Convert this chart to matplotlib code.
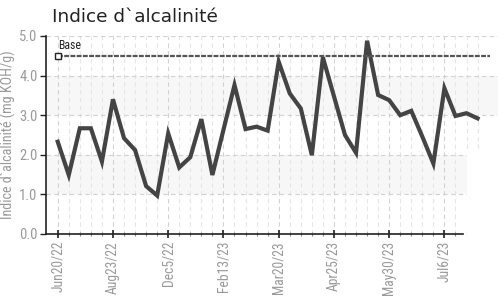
"""Indice d'alcalinité — line chart with a base reference."""

import matplotlib
matplotlib.use("Agg")
import matplotlib.pyplot as plt
from matplotlib import font_manager
from matplotlib.patches import Rectangle

values = [2.33, 1.49, 2.67, 2.67, 1.83, 3.40, 2.42, 2.12, 1.21, 0.97,
          2.54, 1.68, 1.94, 2.90, 1.49, 2.63, 3.76, 2.65, 2.71, 2.61,
          4.35, 3.55, 3.17, 1.99, 4.46, 3.48, 2.50, 2.05, 4.88, 3.51,
          3.38, 3.00, 3.11, 2.46, 1.78, 3.68, 2.98, 3.05, 2.92]
tick_idx = [0, 5, 10, 15, 20, 25, 30, 35]
tick_labels = ["Jun20/22", "Aug23/22", "Dec5/22", "Feb13/23",
               "Mar20/23", "Apr25/23", "May30/23", "Jul6/23"]
base_value = 4.5
base_label = "Base"

installed = {f.name for f in font_manager.fontManager.ttflist}
narrow = [n for n in ["DejaVu Sans Condensed", "Liberation Sans Narrow",
                      "Roboto Condensed", "Open Sans Condensed"]
          if n in installed] + ["DejaVu Sans"]
grey = "#9a9a9a"

fig = plt.figure(figsize=(4.98, 2.98), dpi=100)
ax = fig.add_axes([0.0924, 0.2148, 0.9076, 0.6644])

x = list(range(len(values)))
ax.set_xlim(-1.06, 39.85)
ax.set_ylim(0, 5)

# light bands
ax.axhspan(3, 4, color="#f7f7f7", zorder=0, lw=0)
ax.axhspan(1, 2, color="#f7f7f7", zorder=0, lw=0)

# grid
ax.set_xticks(tick_idx)
ax.set_xticks(x, minor=True)
ax.set_yticks([0, 1, 2, 3, 4, 5])
ax.grid(True, which="major", axis="both", color="#d2d2d2", ls=(0, (4, 3)), lw=0.8)
ax.grid(True, which="minor", axis="x", color="#e6e6e6", ls=(0, (4, 3)), lw=0.8)
ax.set_axisbelow(True)

ax.plot(x, values, color="#444444", lw=3, solid_joinstyle="miter", zorder=3)

# base reference line
ax.plot([0, 39.1], [base_value, base_value], color="#555555", lw=1.6,
        ls=(0, (2.2, 0.6)), zorder=3)
ax.plot([0], [base_value], marker="s", ms=4.5, mfc="white", mec="#222222",
        mew=1, zorder=4)
ax.text(0.05, base_value + 0.1, base_label, fontsize=8.5, color="#222222",
        family=narrow, va="bottom", ha="left")

ax.set_xticklabels(tick_labels, rotation=90, family=narrow, fontsize=9.8,
                   color=grey)
ax.set_yticklabels([f"{v:.1f}" for v in [0, 1, 2, 3, 4, 5]], family=narrow,
                   fontsize=10.5, color=grey)
ax.tick_params(axis="x", which="major", direction="inout", length=6,
               width=1.2, color="#222222", pad=2)
ax.tick_params(axis="x", which="minor", direction="inout", length=3,
               width=0.8, color="#888888")
ax.tick_params(axis="y", direction="out", length=4, width=1, color="#222222",
               pad=2)

for s in ["top", "right"]:
    ax.spines[s].set_visible(False)
ax.spines["left"].set_color("#222222")
ax.spines["bottom"].set_color("#222222")
ax.spines["left"].set_linewidth(1.2)
ax.spines["bottom"].set_linewidth(1.2)
ax.spines["bottom"].set_bounds(-1.06, 36.7)

ax.set_ylabel("Indice d`alcalinité (mg KOH/g)", family=narrow, fontsize=10.2,
              color=grey, labelpad=2)

# the original is cut off at the lower right
fig.add_artist(Rectangle((467 / 498, 0), 31 / 498, (298 - 152) / 298,
                         transform=fig.transFigure, color="white", zorder=10))

fig.text(52 / 498, 1 - 22 / 298, "Indice d`alcalinité", fontsize=13.3,
         color="#222222", ha="left", va="baseline")

fig.savefig("out.png", dpi=100)
